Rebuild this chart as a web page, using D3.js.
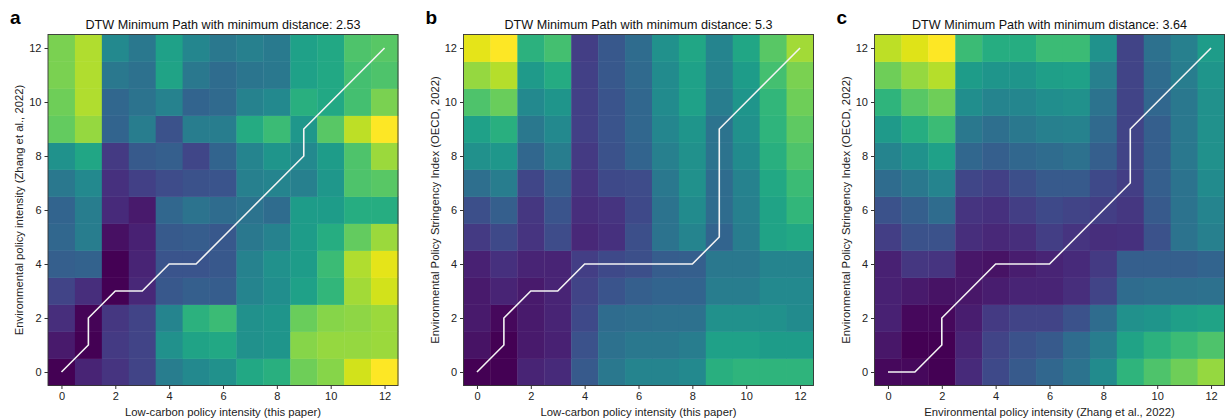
<!DOCTYPE html>
<html>
<head>
<meta charset="utf-8">
<script src="https://cdn.jsdelivr.net/npm/d3@7"></script>
<style>
  body { margin: 0; background: #fff; }
  svg { font-family: "Liberation Sans", Arial, sans-serif; }
</style>
</head>
<body>
<svg id="chart"></svg>
<script>
// DTW cost matrices, rows listed from y = 0 (bottom) to y = 12 (top)
var distA = [
  [0.00, 0.10, 0.15, 0.20, 0.42, 0.47, 0.50, 0.60, 0.63, 0.78, 0.82, 0.93, 1.00],
  [0.07, 0.00, 0.17, 0.20, 0.50, 0.58, 0.60, 0.50, 0.52, 0.82, 0.84, 0.84, 0.85],
  [0.13, 0.01, 0.16, 0.20, 0.45, 0.64, 0.68, 0.50, 0.52, 0.77, 0.82, 0.83, 0.85],
  [0.20, 0.13, 0.00, 0.11, 0.27, 0.30, 0.29, 0.45, 0.49, 0.57, 0.66, 0.86, 0.93],
  [0.30, 0.31, 0.00, 0.10, 0.26, 0.26, 0.27, 0.44, 0.50, 0.55, 0.68, 0.88, 0.96],
  [0.33, 0.42, 0.04, 0.09, 0.28, 0.29, 0.27, 0.40, 0.44, 0.55, 0.62, 0.76, 0.85],
  [0.32, 0.42, 0.12, 0.07, 0.33, 0.38, 0.35, 0.38, 0.35, 0.55, 0.55, 0.62, 0.62],
  [0.40, 0.47, 0.14, 0.19, 0.23, 0.25, 0.26, 0.43, 0.45, 0.43, 0.53, 0.72, 0.74],
  [0.51, 0.59, 0.17, 0.28, 0.30, 0.21, 0.32, 0.45, 0.52, 0.47, 0.55, 0.72, 0.85],
  [0.76, 0.84, 0.32, 0.42, 0.25, 0.42, 0.42, 0.61, 0.68, 0.53, 0.74, 0.90, 1.00],
  [0.78, 0.88, 0.33, 0.38, 0.44, 0.32, 0.34, 0.44, 0.47, 0.63, 0.60, 0.70, 0.80],
  [0.80, 0.88, 0.40, 0.37, 0.58, 0.40, 0.35, 0.39, 0.40, 0.57, 0.60, 0.70, 0.72],
  [0.80, 0.88, 0.47, 0.40, 0.57, 0.46, 0.40, 0.43, 0.41, 0.57, 0.60, 0.72, 0.74]
];
var distB = [
  [0.00, 0.00, 0.10, 0.12, 0.28, 0.40, 0.45, 0.45, 0.47, 0.63, 0.65, 0.65, 0.65],
  [0.05, 0.00, 0.07, 0.09, 0.25, 0.37, 0.40, 0.40, 0.42, 0.57, 0.57, 0.55, 0.55],
  [0.07, 0.02, 0.07, 0.10, 0.22, 0.35, 0.36, 0.37, 0.37, 0.50, 0.50, 0.50, 0.48],
  [0.07, 0.10, 0.07, 0.10, 0.20, 0.26, 0.30, 0.32, 0.32, 0.42, 0.42, 0.47, 0.47],
  [0.09, 0.14, 0.10, 0.10, 0.18, 0.22, 0.24, 0.29, 0.30, 0.40, 0.40, 0.45, 0.45],
  [0.17, 0.22, 0.15, 0.23, 0.11, 0.14, 0.24, 0.38, 0.45, 0.32, 0.42, 0.58, 0.60],
  [0.24, 0.30, 0.16, 0.26, 0.13, 0.15, 0.22, 0.38, 0.48, 0.35, 0.43, 0.58, 0.66],
  [0.36, 0.42, 0.21, 0.30, 0.15, 0.22, 0.23, 0.40, 0.50, 0.35, 0.44, 0.60, 0.68],
  [0.50, 0.53, 0.33, 0.42, 0.17, 0.25, 0.32, 0.43, 0.50, 0.38, 0.48, 0.63, 0.72],
  [0.57, 0.63, 0.40, 0.47, 0.19, 0.26, 0.33, 0.46, 0.52, 0.38, 0.50, 0.65, 0.75],
  [0.72, 0.77, 0.47, 0.52, 0.19, 0.26, 0.33, 0.48, 0.57, 0.42, 0.52, 0.66, 0.78],
  [0.84, 0.89, 0.54, 0.61, 0.19, 0.27, 0.34, 0.48, 0.57, 0.44, 0.55, 0.70, 0.80],
  [0.96, 1.00, 0.64, 0.70, 0.18, 0.27, 0.35, 0.50, 0.59, 0.45, 0.59, 0.74, 0.86]
];
var distC = [
  [0.02, 0.02, 0.00, 0.12, 0.22, 0.28, 0.33, 0.38, 0.48, 0.65, 0.72, 0.78, 0.84],
  [0.06, 0.00, 0.00, 0.10, 0.20, 0.25, 0.28, 0.35, 0.42, 0.58, 0.64, 0.68, 0.72],
  [0.09, 0.02, 0.02, 0.08, 0.17, 0.20, 0.20, 0.25, 0.35, 0.50, 0.52, 0.56, 0.58],
  [0.09, 0.07, 0.05, 0.06, 0.08, 0.10, 0.10, 0.13, 0.20, 0.35, 0.36, 0.36, 0.37],
  [0.09, 0.16, 0.15, 0.06, 0.05, 0.08, 0.10, 0.12, 0.17, 0.30, 0.30, 0.30, 0.32],
  [0.18, 0.25, 0.25, 0.13, 0.11, 0.13, 0.18, 0.15, 0.13, 0.14, 0.25, 0.38, 0.43],
  [0.25, 0.30, 0.35, 0.15, 0.14, 0.18, 0.22, 0.20, 0.18, 0.16, 0.28, 0.38, 0.45],
  [0.35, 0.40, 0.45, 0.21, 0.19, 0.24, 0.28, 0.28, 0.22, 0.18, 0.30, 0.38, 0.48],
  [0.45, 0.51, 0.57, 0.33, 0.30, 0.33, 0.35, 0.37, 0.30, 0.20, 0.30, 0.40, 0.50],
  [0.54, 0.62, 0.68, 0.40, 0.36, 0.40, 0.43, 0.44, 0.34, 0.20, 0.30, 0.40, 0.50],
  [0.65, 0.74, 0.78, 0.49, 0.45, 0.46, 0.49, 0.50, 0.38, 0.20, 0.33, 0.40, 0.50],
  [0.78, 0.84, 0.89, 0.55, 0.52, 0.52, 0.56, 0.57, 0.43, 0.20, 0.35, 0.42, 0.52],
  [0.90, 0.95, 1.00, 0.68, 0.62, 0.62, 0.68, 0.68, 0.51, 0.20, 0.37, 0.43, 0.55]
];

// warping paths [x, y]
var pathA = [[0,0],[1,1],[1,2],[2,3],[3,3],[4,4],[5,4],[6,5],[7,6],[8,7],[9,8],[9,9],[10,10],[11,11],[12,12]];
var pathB = [[0,0],[1,1],[1,2],[2,3],[3,3],[4,4],[5,4],[6,4],[7,4],[8,4],[9,5],[9,6],[9,7],[9,8],[9,9],[10,10],[11,11],[12,12]];
var pathC = [[0,0],[1,0],[2,1],[2,2],[3,3],[4,4],[5,4],[6,4],[7,5],[8,6],[9,7],[9,8],[9,9],[10,10],[11,11],[12,12]];

var letters = ['a', 'b', 'c'];
var titles = [
  'DTW Minimum Path with minimum distance: 2.53',
  'DTW Minimum Path with minimum distance: 5.3',
  'DTW Minimum Path with minimum distance: 3.64'
];
var xLabels = [
  'Low-carbon policy intensity (this paper)',
  'Low-carbon policy intensity (this paper)',
  'Environmental policy intensity (Zhang et al., 2022)'
];
var yLabels = [
  'Environmental policy intensity (Zhang et al., 2022)',
  'Environmental Policy Stringency Index (OECD, 2022)',
  'Environmental Policy Stringency Index (OECD, 2022)'
];
var tickValues = [0, 2, 4, 6, 8, 10, 12];

var svgWidth = 1227;
var svgHeight = 418;
var panelLeft = [48, 463.5, 874.5];
var panelTop = 34.5;
var boxW = 350;
var boxH = 351;

var svg = d3.select('#chart')
    .attr('width', svgWidth)
    .attr('height', svgHeight);

var matrices = [distA, distB, distC];
var paths = [pathA, pathB, pathC];

matrices.forEach(function (mat, p) {
    var n = mat.length;
    var g = svg.append('g')
        .attr('transform', 'translate(' + panelLeft[p] + ',' + panelTop + ')');

    var xScale = d3.scaleLinear().domain([-0.5, n - 0.5]).range([0, boxW]);
    var yScale = d3.scaleLinear().domain([-0.5, n - 0.5]).range([boxH, 0]);

    var flat = [];
    mat.forEach(function (row, j) {
        row.forEach(function (v, i) { flat.push({ x: i, y: j, v: v }); });
    });
    var color = d3.scaleSequential(d3.interpolateViridis)
        .domain(d3.extent(flat, function (d) { return d.v; }));

    g.selectAll('rect.cell')
        .data(flat)
        .enter()
        .append('rect')
        .attr('class', 'cell')
        .attr('x', function (d) { return xScale(d.x - 0.5); })
        .attr('y', function (d) { return yScale(d.y + 0.5); })
        .attr('width', xScale(1) - xScale(0) + 0.4)
        .attr('height', yScale(0) - yScale(1) + 0.4)
        .attr('fill', function (d) { return color(d.v); });

    var line = d3.line()
        .x(function (d) { return xScale(d[0]); })
        .y(function (d) { return yScale(d[1]); });

    g.append('path')
        .datum(paths[p])
        .attr('d', line)
        .attr('fill', 'none')
        .attr('stroke', '#f4f4f4')
        .attr('stroke-width', 1.6);

    g.append('rect')
        .attr('width', boxW)
        .attr('height', boxH)
        .attr('fill', 'none')
        .attr('stroke', '#333')
        .attr('stroke-width', 0.9);

    var xAxis = d3.axisBottom(xScale).tickValues(tickValues).tickSize(3.5).tickPadding(3);
    var yAxis = d3.axisLeft(yScale).tickValues(tickValues).tickSize(3.5).tickPadding(3);

    var gx = g.append('g')
        .attr('transform', 'translate(0,' + boxH + ')')
        .call(xAxis);
    var gy = g.append('g').call(yAxis);
    [gx, gy].forEach(function (a) {
        a.select('.domain').remove();
        a.selectAll('line').attr('stroke', '#333');
        a.selectAll('text')
            .attr('fill', '#222')
            .style('font-size', '11px')
            .style('font-family', '"Liberation Sans", Arial, sans-serif');
    });

    g.append('text')
        .attr('x', boxW / 2)
        .attr('y', -6)
        .attr('text-anchor', 'middle')
        .attr('fill', '#111')
        .style('font-size', '12.6px')
        .text(titles[p]);

    g.append('text')
        .attr('x', boxW / 2)
        .attr('y', boxH + 30)
        .attr('text-anchor', 'middle')
        .attr('fill', '#222')
        .style('font-size', '11.3px')
        .text(xLabels[p]);

    g.append('text')
        .attr('transform', 'translate(' + -25 + ',' + boxH / 2 + ') rotate(-90)')
        .attr('text-anchor', 'middle')
        .attr('fill', '#222')
        .style('font-size', '11.3px')
        .text(yLabels[p]);

    svg.append('text')
        .attr('x', panelLeft[p] - 38)
        .attr('y', 24)
        .attr('fill', '#000')
        .style('font-size', '19px')
        .style('font-weight', 'bold')
        .text(letters[p]);
});
</script>
</body>
</html>
